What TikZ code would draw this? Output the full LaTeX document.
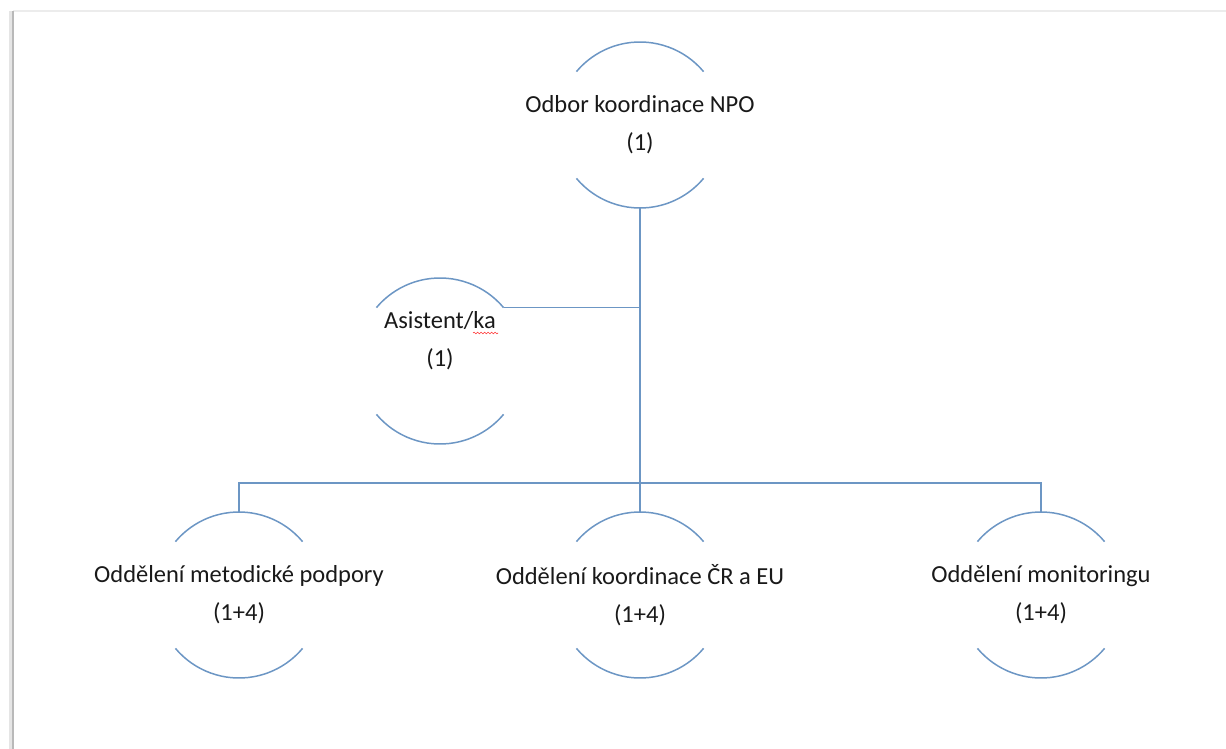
\documentclass[tikz,border=0pt]{standalone}
\usepackage{fontspec}
\setmainfont{Carlito}
\usetikzlibrary{decorations.pathmorphing}
\definecolor{linkblue}{RGB}{108,150,196}
\definecolor{textgrey}{RGB}{25,25,25}
\tikzset{
    unit/.style={font=\fontsize{24.5}{38}\selectfont, text=textgrey, align=center, inner sep=0pt},
    ring/.style={draw=linkblue, line width=1.5pt},
    link/.style={draw=linkblue, line width=1.5pt},
    spell/.style={draw=red!80, line width=0.6pt, decorate,
        decoration={snake, amplitude=0.8pt, segment length=3.5pt}}
}
\begin{document}
\begin{tikzpicture}[x=1pt, y=-1pt]
    \useasboundingbox (0,0) rectangle (1226,749);
    % page edge
    \draw[gray!20, line width=4pt] (11,749) -- (11,11);
    \draw[gray!15, line width=2pt] (13,11) -- (1226,11);
    \draw[gray!55, line width=1.5pt] (13,749) -- (13,11);
        \node[unit] (odbor) at (640,125) {Odbor koordinace NPO\\(1)}
            [level distance=470pt, sibling distance=401pt,
            edge from parent/.style={link},
            edge from parent path={(\tikzparentnode.center) ++(0,-83pt) -- ++(0,-275pt) -| ([yshift=83pt]\tikzchildnode.center)}]
            child {node[unit] (metod) {Oddělení metodické podpory\\(1+4)}}
            child {node[unit] (koord) {Oddělení koordinace ČR a EU\\(1+4)}}
            child {node[unit] (monit) {Oddělení monitoringu\\(1+4)}};
        \node[unit] (asist) at (440,341) {Asistent/ka\\(1)};
        \coordinate (asistc) at ([yshift=-20pt]asist.center);
        \coordinate (asistr) at ([shift={(40:83pt)}]asistc);
        \draw[link] (asistr) -- (asistr -| odbor);
        \draw[spell] ([shift={(33pt,8pt)}]asist.center) -- ++(25pt,0pt);
        % open rings
        \foreach \n in {odbor, asistc, metod, koord, monit}
            \draw[ring] ([shift={(40:83pt)}]\n.center) arc[start angle=40, end angle=140, radius=83pt]
                ([shift={(220:83pt)}]\n.center) arc[start angle=220, end angle=320, radius=83pt];
\end{tikzpicture}
\end{document}
